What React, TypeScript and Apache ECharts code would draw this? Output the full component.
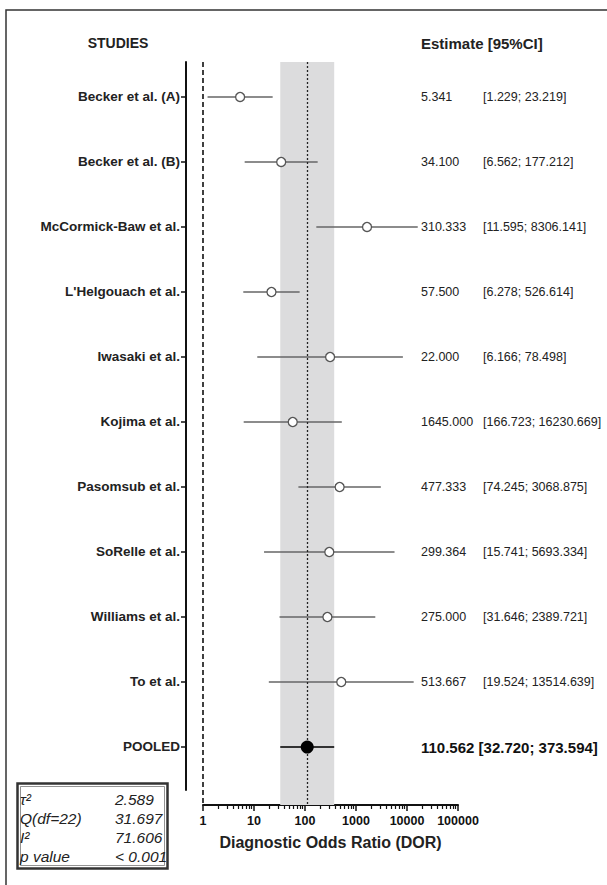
import React, { useEffect, useRef } from "react";
import * as echarts from "echarts";

const studies = [
  "Becker et al. (A)",
  "Becker et al. (B)",
  "McCormick-Baw et al.",
  "L'Helgouach et al.",
  "Iwasaki et al.",
  "Kojima et al.",
  "Pasomsub et al.",
  "SoRelle et al.",
  "Williams et al.",
  "To et al.",
  "POOLED",
];
const estimateText = ["5.341", "34.100", "310.333", "57.500", "22.000", "1645.000", "477.333", "299.364", "275.000", "513.667", "110.562"];
const ciText = [
  "[1.229; 23.219]",
  "[6.562; 177.212]",
  "[11.595; 8306.141]",
  "[6.278; 526.614]",
  "[6.166; 78.498]",
  "[166.723; 16230.669]",
  "[74.245; 3068.875]",
  "[15.741; 5693.334]",
  "[31.646; 2389.721]",
  "[19.524; 13514.639]",
  "[32.720; 373.594]",
];
// values as drawn in the plot
const plotEst = [5.341, 34.1, 1645, 22, 310.333, 57.5, 477.333, 299.364, 275, 513.667, 110.562];
const plotLo = [1.229, 6.562, 166.723, 6.166, 11.595, 6.278, 74.245, 15.741, 31.646, 19.524, 32.72];
const plotHi = [23.219, 177.212, 16230.669, 78.498, 8306.141, 526.614, 3068.875, 5693.334, 2389.721, 13514.639, 373.594];
const pooledIndex = 10;
const pooledBand = [32.72, 373.594];
const pooledEst = 110.562;
const nullLine = 1;

const majorTicks = [1, 10, 100, 1000, 10000, 100000];
const minorMultipliers = [2, 3, 4, 5, 6, 7, 8, 9];
const statLabels = ["τ²", "Q(df=22)", "I²", "p value"];
const statValues = ["2.589", "31.697", "71.606", "< 0.001"];

const FONT = "'Liberation Sans', Arial, Helvetica, sans-serif";

export default function App() {
  const ref = useRef<HTMLDivElement>(null);
  useEffect(() => {
    if (!ref.current) return;
    document.body.style.margin = "0";
    const chart = echarts.init(ref.current, null, { renderer: "svg" });
    const rowIdx = studies.map((_, i) => i);
    const minorTicks: number[] = [];
    majorTicks.slice(0, -1).forEach((d) => minorMultipliers.forEach((m) => minorTicks.push(d * m)));

    const ciData = rowIdx.filter((i) => i !== pooledIndex).map((i) => [plotLo[i], plotHi[i], i]);
    const pooledCi = [[plotLo[pooledIndex], plotHi[pooledIndex], pooledIndex]];
    const ptData = rowIdx.filter((i) => i !== pooledIndex).map((i) => [plotEst[i], i]);

    const ciRender = (color: string, width: number) => (params: any, api: any) => {
      const a = api.coord([api.value(0), api.value(2)]);
      const b = api.coord([api.value(1), api.value(2)]);
      return {
        type: "line",
        shape: { x1: a[0], y1: a[1], x2: b[0], y2: b[1] },
        style: { stroke: color, lineWidth: width },
      };
    };

    const statTexts: any[] = [];
    statLabels.forEach((s, i) => {
      const y = 799 + i * 19.3;
      statTexts.push({
        type: "text",
        x: 20,
        y,
        silent: true,
        style: { text: s, fontSize: 15.5, fontStyle: "italic", fontFamily: FONT, fill: "#222", align: "left", verticalAlign: "middle" },
      });
      statTexts.push({
        type: "text",
        x: 115,
        y,
        silent: true,
        style: { text: statValues[i], fontSize: 15.5, fontStyle: "italic", fontFamily: FONT, fill: "#222", align: "left", verticalAlign: "middle" },
      });
    });

    const option: any = {
      animation: false,
      tooltip: { show: false },
      grid: [
        { left: 203, width: 255, top: 62, height: 743 },
        { left: 186, width: 10, top: 62, height: 728 },
        { left: 411, width: 10, top: 62, height: 743 },
      ],
      xAxis: [
        {
          type: "log",
          logBase: 10,
          gridIndex: 0,
          min: 1,
          max: 100000,
          position: "bottom",
          axisLine: { show: true, onZero: false, lineStyle: { color: "#111", width: 2 } },
          axisTick: { show: true, length: 6, customValues: majorTicks, lineStyle: { color: "#111", width: 1.5 } },
          axisLabel: {
            customValues: majorTicks,
            formatter: (v: number) => String(Math.round(v)),
            fontFamily: FONT,
            fontWeight: "bold",
            fontSize: 12.5,
            color: "#111",
            margin: 9,
          },
          splitLine: { show: false },
          minorTick: { show: false },
          name: "Diagnostic Odds Ratio (DOR)",
          nameLocation: "middle",
          nameGap: 29,
          nameTextStyle: { fontFamily: FONT, fontWeight: "bold", fontSize: 16, color: "#222" },
        },
        {
          type: "log",
          logBase: 10,
          gridIndex: 0,
          min: 1,
          max: 100000,
          position: "bottom",
          axisLine: { show: false, onZero: false },
          axisTick: { show: true, length: 4, customValues: minorTicks, lineStyle: { color: "#111", width: 1.2 } },
          axisLabel: { show: false },
          splitLine: { show: false },
        },
        { type: "value", gridIndex: 1, show: false, axisLine: { onZero: false } },
        { type: "value", gridIndex: 2, show: false, axisLine: { onZero: false } },
      ],
      yAxis: [
        { type: "value", gridIndex: 0, inverse: true, min: -0.538, max: 10.892, show: false, axisLine: { onZero: false } },
        {
          type: "value",
          gridIndex: 1,
          inverse: true,
          min: -0.538,
          max: 10.662,
          position: "left",
          axisLine: { show: true, onZero: false, lineStyle: { color: "#111", width: 2 } },
          axisTick: { show: true, length: 5, customValues: rowIdx, lineStyle: { color: "#111", width: 1.5 } },
          axisLabel: {
            customValues: rowIdx,
            formatter: (v: number) => studies[Math.round(v)] ?? "",
            margin: 6,
            fontFamily: FONT,
            fontWeight: "bold",
            fontSize: 13.5,
            color: "#222",
          },
          splitLine: { show: false },
        },
        {
          type: "value",
          gridIndex: 2,
          inverse: true,
          min: -0.538,
          max: 10.892,
          position: "right",
          axisLine: { show: false, onZero: false },
          axisTick: { show: false },
          axisLabel: {
            customValues: rowIdx,
            margin: 0,
            formatter: (v: number) => {
              const i = Math.round(v);
              if (i === pooledIndex) return `{p|${estimateText[i]} ${ciText[i]}}`;
              return `{e|${estimateText[i]}}{c|${ciText[i]}}`;
            },
            rich: {
              e: { width: 62, fontSize: 12.5, fontFamily: FONT, color: "#222", align: "left" },
              c: { fontSize: 12.5, fontFamily: FONT, color: "#222" },
              p: { fontSize: 15, fontWeight: "bold", fontFamily: FONT, color: "#111" },
            },
          },
          splitLine: { show: false },
        },
      ],
      series: [
        {
          type: "line",
          xAxisIndex: 0,
          yAxisIndex: 0,
          data: [],
          z: 1,
          silent: true,
          markArea: {
            silent: true,
            itemStyle: { color: "#dcdcdd" },
            data: [[{ xAxis: pooledBand[0] }, { xAxis: pooledBand[1] }]],
          },
          markLine: {
            silent: true,
            symbol: ["none", "none"],
            label: { show: false },
            data: [
              { xAxis: nullLine, lineStyle: { type: [5, 3], color: "#111", width: 1.6 } },
              { xAxis: pooledEst, lineStyle: { type: [2, 2], color: "#222", width: 1.3 } },
            ],
          },
        },
        {
          type: "custom",
          xAxisIndex: 0,
          yAxisIndex: 0,
          z: 3,
          silent: true,
          encode: { x: [0, 1], y: 2 },
          data: ciData,
          renderItem: ciRender("#666", 1.5),
        },
        {
          type: "custom",
          xAxisIndex: 0,
          yAxisIndex: 0,
          z: 3,
          silent: true,
          encode: { x: [0, 1], y: 2 },
          data: pooledCi,
          renderItem: ciRender("#333", 2.2),
        },
        {
          type: "scatter",
          xAxisIndex: 0,
          yAxisIndex: 0,
          z: 4,
          silent: true,
          symbol: "circle",
          symbolSize: 9,
          itemStyle: { color: "#fff", borderColor: "#555", borderWidth: 1.3, opacity: 1 },
          data: ptData,
        },
        {
          type: "scatter",
          xAxisIndex: 0,
          yAxisIndex: 0,
          z: 5,
          silent: true,
          symbol: "circle",
          symbolSize: 13,
          itemStyle: { color: "#000", opacity: 1 },
          data: [[plotEst[pooledIndex], pooledIndex]],
        },
      ],
      graphic: [
        {
          type: "rect",
          silent: true,
          shape: { x: 6, y: 10, width: 700, height: 1000 },
          style: { fill: "none", stroke: "#333", lineWidth: 1.5 },
        },
        {
          type: "text",
          x: 118,
          y: 43,
          silent: true,
          style: { text: "STUDIES", fontSize: 14, fontWeight: "bold", fontFamily: FONT, fill: "#222", align: "center", verticalAlign: "middle" },
        },
        {
          type: "text",
          x: 421,
          y: 43,
          silent: true,
          style: { text: "Estimate [95%CI]", fontSize: 15, fontWeight: "bold", fontFamily: FONT, fill: "#222", align: "left", verticalAlign: "middle" },
        },
        {
          type: "rect",
          silent: true,
          shape: { x: 17.5, y: 783.5, width: 150, height: 85 },
          style: { fill: "#fff", stroke: "#333", lineWidth: 2.5 },
        },
        {
          type: "rect",
          silent: true,
          shape: { x: 20.5, y: 786.5, width: 144, height: 79 },
          style: { fill: "none", stroke: "#777", lineWidth: 0.8 },
        },
        ...statTexts,
      ],
    };
    chart.setOption(option);
    return () => chart.dispose();
  }, []);
  return <div ref={ref} style={{ width: 607, height: 885 }} />;
}
